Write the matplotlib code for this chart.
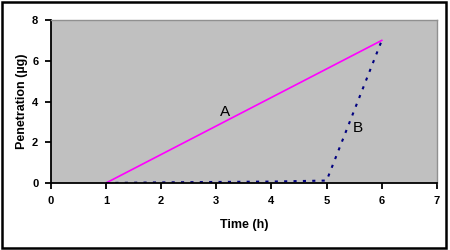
import matplotlib.pyplot as plt
from matplotlib.patches import Rectangle

time_h = [1, 2, 3, 4, 5, 6]
pen_a = [0.0, 1.4, 2.8, 4.2, 5.6, 7.0]
pen_b = [0.0, 0.03, 0.05, 0.07, 0.12, 7.0]

plt.rcParams['font.family'] = 'Liberation Sans'
plt.rcParams['font.weight'] = 'bold'

fig = plt.figure(figsize=(4.5, 2.5), dpi=100)
ax = fig.add_axes([0.113, 0.268, 0.858, 0.652])
ax.set_facecolor('#c0c0c0')

ax.plot(time_h, pen_a, color='#ff00ff', lw=1.2)
ax.plot(time_h, pen_b, color='#000080', lw=1.5, ls=(0, (1.5, 3)))
ax.text(3.15, 3.5, 'A', fontsize=11, fontweight='normal', ha='center', va='center')
ax.text(5.57, 2.7, 'B', fontsize=11, fontweight='normal', ha='center', va='center')

ax.set_xlim(0, 7)
ax.set_ylim(0, 8)
ax.set_xticks(range(0, 8))
ax.set_yticks([0, 2, 4, 6, 8])
ax.tick_params(direction='out', length=4, width=1.3, labelsize=8, pad=5)
for s in ['left', 'bottom']:
    ax.spines[s].set_linewidth(1.3)
for s in ['top', 'right']:
    ax.spines[s].set_color('#909090')
    ax.spines[s].set_linewidth(1.0)

ax.set_xlabel('Time (h)', fontsize=9, fontweight='bold', labelpad=10)
ax.set_ylabel('Penetration (µg)', fontsize=9, fontweight='bold', labelpad=3)

fig.patches.append(Rectangle((0.004, 0.008), 0.988, 0.984, transform=fig.transFigure,
                             fill=False, edgecolor='black', lw=1.8))

fig.savefig('out.png', dpi=100)
